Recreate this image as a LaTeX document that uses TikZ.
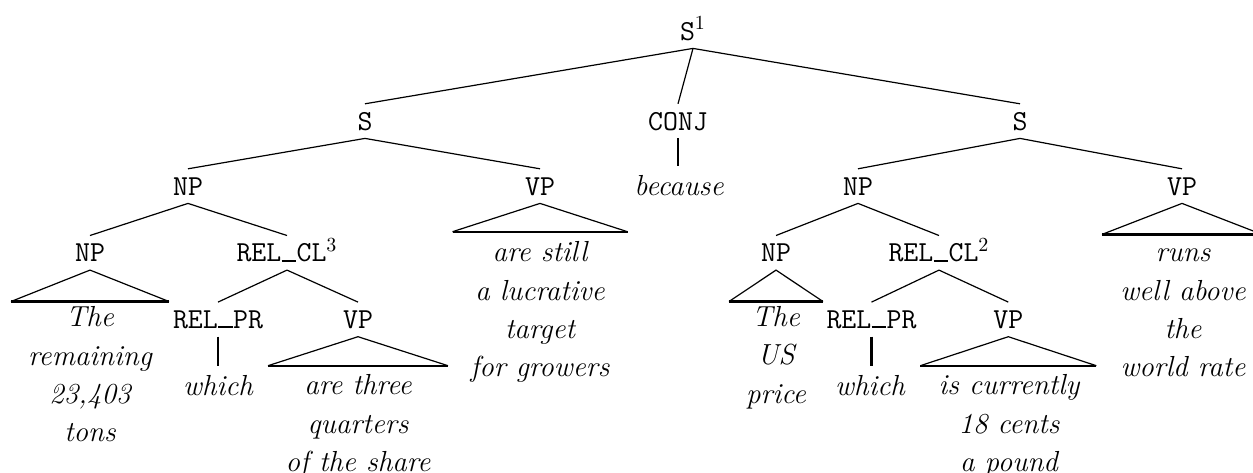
\documentclass[tikz,border=0pt]{standalone}
\usepackage{tikz}
% underscore drawn as a rule sitting on the baseline, one typewriter cell wide
\newcommand\ubar{\makebox[0.525em][c]{\rule{0.5em}{0.07em}}}
\tikzset{
  cat/.style={font=\fontsize{14.5}{19.15}\selectfont\ttfamily, anchor=base,
    text height=8.9pt, text depth=0pt, inner xsep=0pt, inner ysep=4pt},
  word/.style={font=\fontsize{14.5}{19.15}\selectfont\itshape, anchor=base,
    text height=10.2pt, text depth=0pt, inner xsep=0pt, inner ysep=4pt},
  % multi-line yields: the base anchor sits on the last line's baseline
  leaves/.style={font=\fontsize{14.5}{19.15}\selectfont\itshape, anchor=base,
    align=center, inner sep=0pt},
  branch/.style={line width=0.6pt},
  stem/.style={line width=1.1pt},
  base/.style={line width=1.1pt},
}
\begin{document}
\begin{tikzpicture}[x=0.5pt, y=-0.5pt]
\useasboundingbox (0,0) rectangle (1253,472);

% category labels
\node[cat] (s1) at (693,40) {S$^1$};
\node[cat] (sL) at (365,130) {S};
\node[cat] (conj) at (678,130) {CONJ};
\node[cat] (sR) at (1020,130) {S};
\node[cat] (npL) at (188,195) {NP};
\node[cat] (vpL) at (540,195) {VP};
\node[cat] (npR) at (858,195) {NP};
\node[cat] (vpR) at (1182,195) {VP};
\node[cat] (np3L) at (90,261.7) {NP};
\node[cat] (relclL) at (287,261.7) {REL\ubar CL$^3$};
\node[cat] (np3R) at (776,261.7) {NP};
\node[cat] (relclR) at (939,261.7) {REL\ubar CL$^2$};
\node[cat] (relprL) at (218,328.3) {REL\ubar PR};
\node[cat] (vp3L) at (358,328.3) {VP};
\node[cat] (relprR) at (871.5,328.3) {REL\ubar PR};
\node[cat] (vp3R) at (1008.3,328.3) {VP};

% single words
\node[word] (because) at (679,195) {because};
\node[word] (whichL) at (218,395) {which};
\node[word] (whichR) at (870,395) {which};

% branches
\draw[branch] (s1.south) -- (sL.north);
\draw[branch] (s1.south) -- (conj.north);
\draw[branch] (s1.south) -- (sR.north);
\draw[branch] (sL.south) -- (npL.north);
\draw[branch] (sL.south) -- (vpL.north);
\draw[branch] (sR.south) -- (npR.north);
\draw[branch] (sR.south) -- (vpR.north);
\draw[branch] (npL.south) -- (np3L.north);
\draw[branch] (npL.south) -- (relclL.north);
\draw[branch] (npR.south) -- (np3R.north);
\draw[branch] (npR.south) -- (relclR.north);
\draw[branch] (relclL.south) -- (relprL.north);
\draw[branch] (relclL.south) -- (vp3L.north);
\draw[branch] (relclR.south) -- (relprR.north);
\draw[branch] (relclR.south) -- (vp3R.north);

% unary stems to words
\draw[stem] (conj.south) -- (conj.south |- because.north);
\draw[stem] (relprL.south) -- (relprL.south |- whichL.north);
\draw[stem] (relprR.south) -- (relprR.south |- whichR.north);

% collapsed subtrees drawn as triangles
\draw[branch] ([xshift=-87.5*0.5pt, yshift=-28.3*0.5pt]vpL.south) -- (vpL.south) -- ([xshift=87.5*0.5pt, yshift=-28.3*0.5pt]vpL.south);
\draw[base] ([xshift=-87.5*0.5pt, yshift=-28.3*0.5pt]vpL.south) -- ([xshift=87.5*0.5pt, yshift=-28.3*0.5pt]vpL.south);

\draw[branch] ([xshift=-80*0.5pt, yshift=-31*0.5pt]vpR.south) -- (vpR.south) -- ([xshift=80*0.5pt, yshift=-31*0.5pt]vpR.south);
\draw[base] ([xshift=-80*0.5pt, yshift=-31*0.5pt]vpR.south) -- ([xshift=80*0.5pt, yshift=-31*0.5pt]vpR.south);

\draw[branch] ([xshift=-79*0.5pt, yshift=-31.4*0.5pt]np3L.south) -- (np3L.south) -- ([xshift=79*0.5pt, yshift=-31.4*0.5pt]np3L.south);
\draw[base] ([xshift=-79*0.5pt, yshift=-31.4*0.5pt]np3L.south) -- ([xshift=79*0.5pt, yshift=-31.4*0.5pt]np3L.south);

\draw[branch] ([xshift=-47*0.5pt, yshift=-31.4*0.5pt]np3R.south) -- (np3R.south) -- ([xshift=47*0.5pt, yshift=-31.4*0.5pt]np3R.south);
\draw[base] ([xshift=-47*0.5pt, yshift=-31.4*0.5pt]np3R.south) -- ([xshift=47*0.5pt, yshift=-31.4*0.5pt]np3R.south);

\draw[branch] ([xshift=-90*0.5pt, yshift=-29*0.5pt]vp3L.south) -- (vp3L.south) -- ([xshift=90*0.5pt, yshift=-29*0.5pt]vp3L.south);
\draw[base] ([xshift=-90*0.5pt, yshift=-29*0.5pt]vp3L.south) -- ([xshift=90*0.5pt, yshift=-29*0.5pt]vp3L.south);

\draw[branch] ([xshift=-88*0.5pt, yshift=-29*0.5pt]vp3R.south) -- (vp3R.south) -- ([xshift=88*0.5pt, yshift=-29*0.5pt]vp3R.south);
\draw[base] ([xshift=-88*0.5pt, yshift=-29*0.5pt]vp3R.south) -- ([xshift=88*0.5pt, yshift=-29*0.5pt]vp3R.south);

% yields under the triangles (placed by their last baseline)
\node[leaves] (yvpL) at (540,376.7) {are still\\a lucrative\\target\\for growers};
\node[leaves] (yvpR) at (1183,376.7) {runs\\well above\\the\\world rate};
\node[leaves] (ynpL) at (90,441.7) {The\\remaining\\23,403\\tons};
\node[leaves] (ynpR) at (776,403) {The\\US\\price};
\node[leaves] (yvp3L) at (358,471.3) {are three\\quarters\\of the share};
\node[leaves] (yvp3R) at (1009,471.3) {is currently\\18 cents\\a pound};
\end{tikzpicture}
\end{document}
